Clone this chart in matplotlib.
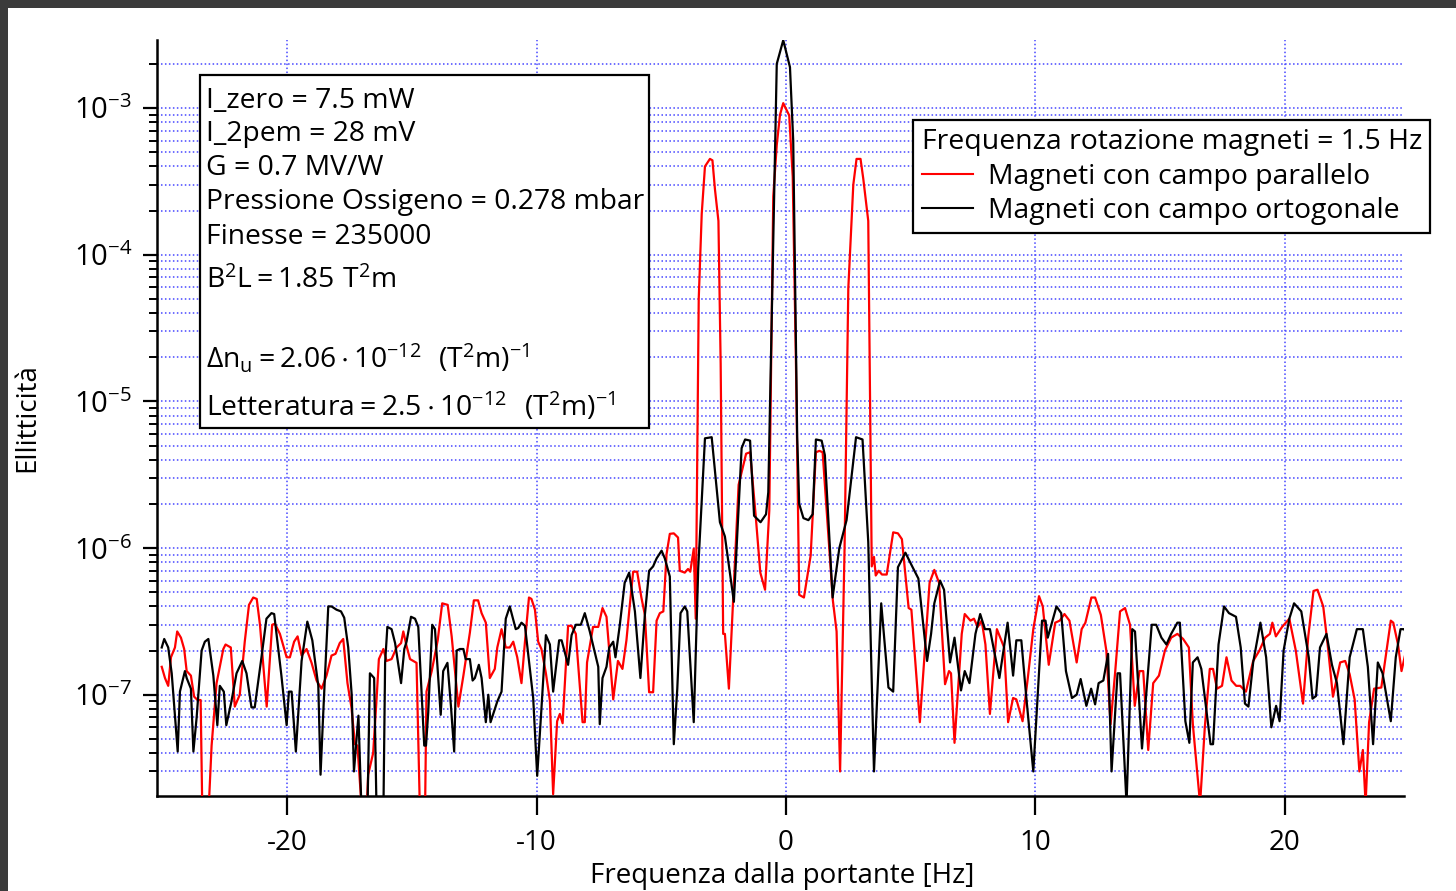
import numpy as np
import matplotlib
matplotlib.use("Agg")
import matplotlib.pyplot as plt
from matplotlib.patches import Rectangle
from matplotlib.ticker import FixedLocator, LogLocator, NullFormatter, FixedFormatter

# ── fonts ───────────────────────────────────────────────────────────────────
FONT = ["Open Sans", "Liberation Sans", "DejaVu Sans"]
plt.rcParams["font.family"] = FONT
plt.rcParams["mathtext.fontset"] = "custom"
plt.rcParams["mathtext.rm"] = "Open Sans"
plt.rcParams["mathtext.it"] = "Open Sans"
plt.rcParams["axes.unicode_minus"] = False

# ── data (Hz, ellitticità) ─────────────────────────────────────────────────
# Magneti con campo parallelo (rosso)
freq_par = [
    -25.04, -24.91, -24.78, -24.67, -24.51, -24.42, -24.27, -24.14, -24.04, -23.87,
    -23.74, -23.60, -23.48, -23.41, -23.17, -23.04, -22.84, -22.71, -22.57, -22.48,
    -22.27, -22.11, -21.91, -21.71, -21.54, -21.37, -21.23, -21.10, -20.83, -20.61,
    -20.50, -20.30, -20.03, -19.90, -19.73, -19.59, -19.43, -19.23, -19.03, -18.83,
    -18.63, -18.43, -18.23, -18.07, -17.90, -17.76, -17.59, -17.43, -17.29, -17.19,
    -17.00, -16.83, -16.76, -16.56, -16.42, -16.33, -16.15, -16.02, -15.82, -15.62,
    -15.44, -15.35, -15.22, -15.08, -14.82, -14.68, -14.48, -14.42, -14.21, -13.97,
    -13.79, -13.57, -13.41, -13.14, -12.94, -12.68, -12.52, -12.35, -12.21, -12.04,
    -11.88, -11.68, -11.58, -11.41, -11.24, -11.08, -10.94, -10.78, -10.61, -10.47,
    -10.31, -10.21, -10.07, -9.94, -9.81, -9.63, -9.47, -9.34, -9.18, -9.07,
    -8.96, -8.74, -8.60, -8.43, -8.16, -8.07, -7.98, -7.74, -7.53, -7.36,
    -7.20, -6.93, -6.74, -6.56, -6.40, -6.27, -6.13, -5.97, -5.80, -5.66,
    -5.49, -5.33, -5.19, -5.06, -4.92, -4.79, -4.66, -4.50, -4.33, -4.26,
    -4.06, -3.93, -3.84, -3.70, -3.62, -3.50, -3.38, -3.25, -3.05, -2.95,
    -2.85, -2.71, -2.62, -2.52, -2.45, -2.29, -1.90, -1.60, -1.44, -1.22,
    -1.03, -0.84, -0.67, -0.51, -0.37, -0.24, -0.11, 0.13, 0.27, 0.40,
    0.53, 0.72, 0.99, 1.20, 1.34, 1.47, 1.88, 2.03, 2.17, 2.35,
    2.50, 2.70, 2.83, 2.99, 3.10, 3.30, 3.44, 3.53, 3.60, 3.72,
    3.85, 4.04, 4.30, 4.49, 4.65, 4.92, 5.03, 5.37, 5.76, 5.95,
    6.14, 6.38, 6.54, 6.62, 6.76, 7.05, 7.17, 7.40, 7.54, 7.69,
    7.85, 8.00, 8.18, 8.46, 8.75, 8.91, 9.11, 9.24, 9.49, 9.70,
    9.92, 10.15, 10.30, 10.54, 10.80, 10.98, 11.17, 11.37, 11.66, 11.86,
    12.01, 12.25, 12.40, 12.63, 12.85, 13.02, 13.20, 13.40, 13.60, 13.80,
    13.99, 14.18, 14.33, 14.53, 14.73, 14.96, 15.20, 15.45, 15.70, 15.93,
    16.16, 16.32, 16.61, 16.80, 17.00, 17.13, 17.29, 17.49, 17.67, 17.87,
    18.06, 18.22, 18.45, 18.74, 18.99, 19.22, 19.41, 19.51, 19.65, 19.90,
    20.19, 20.45, 20.74, 20.95, 21.16, 21.32, 21.55, 21.74, 21.94, 22.23,
    22.43, 22.61, 22.81, 23.00, 23.14, 23.25, 23.39, 23.59, 23.88, 24.26,
    24.36, 24.55, 24.69, 24.83,
]
ell_par = [
    1.55e-7, 1.3e-7, 1.15e-7, 1.8e-7, 2.1e-7, 2.7e-7, 2.45e-7, 2.05e-7, 1.45e-7, 1.35e-7,
    9.7e-8, 9.2e-8, 9.2e-8, 1.5e-8, 1.5e-8, 4.5e-8, 1.2e-7, 1.55e-7, 2.05e-7, 2.2e-7,
    2.1e-7, 8.3e-8, 1.0e-7, 2.3e-7, 4.1e-7, 4.6e-7, 4.5e-7, 3.0e-7, 8.3e-8, 3.0e-7,
    3.05e-7, 2.6e-7, 1.8e-7, 1.8e-7, 2.3e-7, 2.5e-7, 1.85e-7, 2.05e-7, 1.65e-7, 1.25e-7,
    1.1e-7, 1.35e-7, 1.85e-7, 1.9e-7, 2.25e-7, 2.4e-7, 1.2e-7, 8.2e-8, 4.6e-8, 4.5e-8,
    1.5e-8, 1.5e-8, 2.85e-8, 4.0e-8, 9.5e-8, 1.75e-7, 2.05e-7, 1.7e-7, 1.75e-7, 2.1e-7,
    2.25e-7, 2.7e-7, 2.15e-7, 1.75e-7, 1.65e-7, 1.5e-8, 1.5e-8, 1.05e-7, 1.45e-7, 2.35e-7,
    4.2e-7, 4.1e-7, 2.5e-7, 8.3e-8, 1.35e-7, 2.65e-7, 4.4e-7, 4.4e-7, 3.6e-7, 3.1e-7,
    1.3e-7, 1.5e-7, 2.1e-7, 2.8e-7, 2.1e-7, 2.1e-7, 2.3e-7, 1.8e-7, 1.2e-7, 2.3e-7,
    4.6e-7, 4.5e-7, 3.8e-7, 2.3e-7, 2.05e-7, 1.4e-7, 9.1e-8, 2.1e-8, 6.6e-8, 7.4e-8,
    6.4e-8, 2.95e-7, 2.95e-7, 2.6e-7, 6.5e-8, 6.5e-8, 1.66e-7, 2.9e-7, 2.9e-7, 3.9e-7,
    3.4e-7, 9.3e-8, 1.7e-7, 1.5e-7, 2.35e-7, 4.0e-7, 6.9e-7, 6.9e-7, 4.6e-7, 3.5e-7,
    1.04e-7, 1.04e-7, 3.2e-7, 3.6e-7, 3.7e-7, 9.1e-7, 1.25e-6, 1.26e-6, 1.18e-6, 7.0e-7,
    6.8e-7, 7.2e-7, 6.9e-7, 9.9e-7, 3.3e-7, 5.0e-5, 1.9e-4, 4.0e-4, 4.5e-4, 4.4e-4,
    2.8e-4, 1.7e-4, 1.8e-5, 2.6e-7, 2.6e-7, 1.1e-7, 2.7e-6, 4.4e-6, 4.5e-6, 1.7e-6,
    6.8e-7, 5.2e-7, 1.8e-6, 2.5e-4, 5.6e-4, 9.0e-4, 1.08e-3, 8.9e-4, 3.4e-4, 1.8e-5,
    4.8e-7, 4.6e-7, 8.9e-7, 4.5e-6, 4.6e-6, 4.5e-6, 4.4e-7, 2.7e-7, 3.0e-8, 1.0e-6,
    5.9e-5, 3.0e-4, 4.5e-4, 4.5e-4, 3.3e-4, 1.7e-4, 7.5e-7, 8.7e-7, 6.5e-7, 7.0e-7,
    6.6e-7, 6.6e-7, 1.28e-6, 1.26e-6, 1.15e-6, 3.9e-7, 3.8e-7, 6.5e-8, 5.8e-7, 7.1e-7,
    5.8e-7, 1.18e-7, 1.45e-7, 1.4e-7, 4.7e-8, 2.6e-7, 3.55e-7, 3.2e-7, 3.3e-7, 2.9e-7,
    3.2e-7, 2.2e-7, 7.4e-8, 2.8e-7, 2.1e-7, 6.5e-8, 9.5e-8, 9.3e-8, 6.6e-8, 1.3e-7,
    2.8e-7, 4.7e-7, 4.0e-7, 1.6e-7, 3.1e-7, 3.2e-7, 3.55e-7, 3.2e-7, 1.66e-7, 2.8e-7,
    3.1e-7, 4.6e-7, 4.6e-7, 3.5e-7, 2.0e-7, 6.3e-8, 1.4e-7, 3.7e-7, 3.9e-7, 3.0e-7,
    8.4e-8, 1.45e-7, 1.45e-7, 4.2e-8, 1.2e-7, 1.35e-7, 2.0e-7, 2.45e-7, 2.6e-7, 2.4e-7,
    2.1e-7, 6.3e-8, 1.8e-8, 6.0e-8, 1.5e-7, 1.5e-7, 1.1e-7, 1.15e-7, 1.8e-7, 1.25e-7,
    1.15e-7, 1.15e-7, 1.05e-7, 1.7e-7, 2.0e-7, 2.45e-7, 2.6e-7, 3.1e-7, 2.5e-7, 2.9e-7,
    3.3e-7, 2.0e-7, 8.7e-8, 2.5e-7, 5.1e-7, 5.2e-7, 4.0e-7, 2.1e-7, 9.7e-8, 1.66e-7,
    1.7e-7, 1.38e-7, 9.3e-8, 3.0e-8, 4.2e-8, 1.8e-8, 6.5e-8, 1.1e-7, 1.12e-7, 3.2e-7,
    3.1e-7, 2.2e-7, 1.45e-7, 1.85e-7,
]

# Magneti con campo ortogonale (nero)
freq_ort = [
    -25.04, -24.94, -24.78, -24.64, -24.40, -24.31, -24.11, -24.04, -23.87, -23.77,
    -23.64, -23.44, -23.31, -23.17, -22.97, -22.81, -22.71, -22.55, -22.45, -22.25,
    -22.04, -21.81, -21.64, -21.44, -21.31, -21.04, -20.84, -20.64, -20.53, -20.24,
    -20.03, -19.94, -19.83, -19.66, -19.43, -19.20, -19.00, -18.76, -18.67, -18.56,
    -18.36, -18.23, -18.03, -17.85, -17.72, -17.56, -17.42, -17.33, -17.15, -17.02,
    -16.79, -16.69, -16.52, -16.42, -16.15, -16.08, -15.99, -15.82, -15.68, -15.44,
    -15.31, -15.22, -15.04, -14.88, -14.75, -14.51, -14.44, -14.35, -14.19, -14.08,
    -13.85, -13.75, -13.58, -13.44, -13.31, -13.21, -13.08, -12.94, -12.85, -12.68,
    -12.57, -12.48, -12.32, -12.21, -12.04, -11.94, -11.85, -11.68, -11.58, -11.41,
    -11.24, -11.08, -10.84, -10.74, -10.61, -10.47, -10.14, -9.98, -9.81, -9.63,
    -9.47, -9.34, -9.10, -9.00, -8.74, -8.60, -8.43, -8.23, -8.07, -7.87,
    -7.67, -7.53, -7.47, -7.36, -7.20, -7.09, -6.93, -6.84, -6.67, -6.47,
    -6.29, -6.06, -5.84, -5.66, -5.49, -5.33, -5.19, -4.99, -4.86, -4.66,
    -4.50, -4.36, -4.23, -4.06, -3.96, -3.70, -3.52, -3.25, -2.98, -2.65,
    -2.45, -2.09, -1.78, -1.64, -1.44, -1.28, -1.02, -0.80, -0.71, -0.44,
    -0.37, -0.11, 0.16, 0.29, 0.45, 0.53, 0.70, 0.90, 1.07, 1.20,
    1.43, 1.56, 1.87, 2.14, 2.43, 2.81, 3.07, 3.30, 3.53, 3.82,
    4.11, 4.30, 4.49, 4.79, 5.08, 5.31, 5.66, 5.82, 5.95, 6.18,
    6.34, 6.58, 6.76, 7.02, 7.17, 7.36, 7.60, 7.79, 7.98, 8.18,
    8.56, 8.89, 9.11, 9.24, 9.44, 9.63, 9.92, 10.27, 10.41, 10.50,
    10.85, 11.04, 11.23, 11.47, 11.66, 11.82, 12.05, 12.24, 12.40, 12.54,
    12.73, 12.92, 13.06, 13.30, 13.40, 13.66, 13.89, 14.00, 14.28, 14.67,
    14.85, 15.06, 15.26, 15.45, 15.70, 15.80, 16.02, 16.18, 16.32, 16.51,
    16.66, 16.89, 17.03, 17.13, 17.35, 17.57, 17.77, 18.05, 18.24, 18.41,
    18.55, 18.74, 19.03, 19.26, 19.47, 19.66, 19.80, 19.96, 20.19, 20.38,
    20.67, 20.97, 21.12, 21.26, 21.42, 21.68, 21.90, 22.10, 22.36, 22.61,
    22.90, 23.14, 23.34, 23.55, 23.74, 23.93, 24.26, 24.46, 24.65, 24.80,
    24.88,
]
ell_ort = [
    2.1e-7, 2.4e-7, 2.1e-7, 1.4e-7, 4.1e-8, 1.05e-7, 1.45e-7, 1.3e-7, 1.1e-7, 4.1e-8,
    7.0e-8, 2.0e-7, 2.3e-7, 2.4e-7, 1.35e-7, 6.2e-8, 1.15e-7, 1.05e-7, 6.2e-8, 8.9e-8,
    1.4e-7, 1.7e-7, 1.4e-7, 8.2e-8, 8.2e-8, 1.8e-7, 3.3e-7, 3.6e-7, 3.55e-7, 1.35e-7,
    6.2e-8, 1.05e-7, 1.05e-7, 4.1e-8, 1.7e-7, 3.15e-7, 2.35e-7, 1.15e-7, 2.85e-8, 7.6e-8,
    4.0e-7, 4.0e-7, 3.8e-7, 3.7e-7, 3.35e-7, 2.1e-7, 1.0e-7, 3.0e-8, 7.2e-8, 1.5e-8,
    1.5e-8, 1.4e-7, 1.3e-7, 1.5e-8, 1.5e-8, 1.65e-7, 2.9e-7, 2.8e-7, 2.25e-7, 1.2e-7,
    2.05e-7, 2.3e-7, 3.4e-7, 3.3e-7, 2.9e-7, 4.5e-8, 4.5e-8, 7.6e-8, 3.0e-7, 2.8e-7,
    7.3e-8, 1.45e-7, 1.65e-7, 8.4e-8, 4.1e-8, 2.0e-7, 2.05e-7, 2.05e-7, 1.75e-7, 1.75e-7,
    1.25e-7, 1.3e-7, 1.6e-7, 1.3e-7, 6.5e-8, 1.0e-7, 6.5e-8, 8.0e-8, 9.0e-8, 1.05e-7,
    3.3e-7, 4.0e-7, 2.8e-7, 2.85e-7, 3.1e-7, 2.95e-7, 9.5e-8, 2.8e-8, 8.0e-8, 2.55e-7,
    2.2e-7, 1.05e-7, 2.35e-7, 2.35e-7, 1.6e-7, 2.55e-7, 3.0e-7, 3.0e-7, 3.6e-7, 2.7e-7,
    1.95e-7, 1.55e-7, 6.3e-8, 1.3e-7, 1.55e-7, 2.1e-7, 2.3e-7, 1.8e-7, 2.95e-7, 5.8e-7,
    6.8e-7, 3.7e-7, 1.3e-7, 3.5e-7, 7.0e-7, 7.5e-7, 8.5e-7, 9.6e-7, 8.5e-7, 6.4e-7,
    4.6e-8, 1.1e-7, 3.6e-7, 4.0e-7, 3.7e-7, 6.5e-8, 7.3e-7, 5.6e-6, 5.7e-6, 1.5e-6,
    1.2e-6, 4.3e-7, 4.8e-6, 5.5e-6, 5.4e-6, 1.66e-6, 1.5e-6, 1.7e-6, 2.4e-6, 5.0e-4,
    2.0e-3, 2.9e-3, 1.9e-3, 6.0e-4, 5.7e-6, 2.0e-6, 1.6e-6, 1.55e-6, 1.7e-6, 5.5e-6,
    5.4e-6, 4.3e-6, 4.6e-7, 1.0e-6, 1.55e-6, 5.7e-6, 5.5e-6, 1.1e-6, 3.0e-8, 4.2e-7,
    1.12e-7, 1.05e-7, 7.4e-7, 9.3e-7, 7.4e-7, 6.2e-7, 1.7e-7, 2.6e-7, 4.2e-7, 6.0e-7,
    5.2e-7, 1.66e-7, 2.45e-7, 1.07e-7, 1.45e-7, 1.2e-7, 2.6e-7, 3.55e-7, 2.8e-7, 2.8e-7,
    1.3e-7, 3.1e-7, 1.35e-7, 2.35e-7, 2.35e-7, 1.0e-7, 3.0e-8, 3.2e-7, 3.2e-7, 2.45e-7,
    4.0e-7, 3.6e-7, 1.45e-7, 9.5e-8, 1.0e-7, 1.28e-7, 8.4e-8, 1.1e-7, 8.6e-8, 1.2e-7,
    1.25e-7, 1.9e-7, 3.0e-8, 1.4e-7, 1.4e-7, 1.8e-8, 2.8e-7, 2.7e-7, 4.3e-8, 3.0e-7,
    3.0e-7, 2.45e-7, 2.2e-7, 2.6e-7, 3.1e-7, 3.1e-7, 6.6e-8, 4.7e-8, 1.66e-7, 1.8e-7,
    1.5e-7, 7.2e-8, 4.6e-8, 4.6e-8, 2.2e-7, 4.0e-7, 3.6e-7, 3.4e-7, 2.1e-7, 8.7e-8,
    8.3e-8, 1.66e-7, 3.1e-7, 1.8e-7, 6.0e-8, 8.4e-8, 6.6e-8, 2.0e-7, 3.3e-7, 4.2e-7,
    3.7e-7, 1.8e-7, 9.4e-8, 9.8e-8, 2.1e-7, 2.6e-7, 1.6e-7, 1.2e-7, 4.6e-8, 1.8e-7,
    2.8e-7, 2.8e-7, 1.55e-7, 4.6e-8, 1.66e-7, 1.4e-7, 6.6e-8, 1.8e-7, 2.8e-7, 2.8e-7,
    2.6e-7,
]

x_ticks = [-20, -10, 0, 10, 20]
y_major = [1e-7, 1e-6, 1e-5, 1e-4, 1e-3]
y_labels = [r"$\mathregular{10^{-7}}$", r"$\mathregular{10^{-6}}$", r"$\mathregular{10^{-5}}$",
            r"$\mathregular{10^{-4}}$", r"$\mathregular{10^{-3}}$"]

info_lines = [
    "I_zero = 7.5 mW",
    "I_2pem = 28 mV",
    "G = 0.7 MV/W",
    "Pressione Ossigeno = 0.278 mbar",
    "Finesse = 235000",
    r"$\mathregular{B^2L = 1.85\ T^2m}$",
    r"$\mathregular{\Delta n_u = 2.06 \cdot 10^{-12}\ \ (T^2m)^{-1}}$",
    r"$\mathregular{Letteratura = 2.5 \cdot 10^{-12}\ \ (T^2m)^{-1}}$",
]
info_baselines = [108, 141, 175, 209, 244, 288, 367, 416]   # pixel rows

legend_title = "Frequenza rotazione magneti = 1.5 Hz"
label_par = "Magneti con campo parallelo"
label_ort = "Magneti con campo ortogonale"

# ── figure ──────────────────────────────────────────────────────────────────
W, H = 1456, 891
fig = plt.figure(figsize=(W / 100, H / 100), dpi=100)
fig.patch.set_facecolor("white")

# dark frame from the screenshot
fig.patches.append(Rectangle((0, 1 - 7.5 / H), 1, 7.5 / H, transform=fig.transFigure,
                             facecolor="#3b3b3b", edgecolor="none", zorder=0))
fig.patches.append(Rectangle((0, 0), 7.5 / W, 1, transform=fig.transFigure,
                             facecolor="#3b3b3b", edgecolor="none", zorder=0))

ax = fig.add_axes([157 / W, 1 - 796 / H, (1404 - 157) / W, (796 - 40) / H])
ax.set_yscale("log")
ax.set_xlim(-25.23, 24.79)
ax.set_ylim(2.04e-8, 2.91e-3)

grid_kw = dict(color="#4646ff", lw=1.1, ls=(0, (1, 1.6)))
ax.plot(freq_par, ell_par, color="#ff0000", lw=1.6, label=label_par, zorder=3)
ax.plot(freq_ort, ell_ort, color="black", lw=1.6, label=label_ort, zorder=4)

# ticks & grid
ax.xaxis.set_major_locator(FixedLocator(x_ticks))
ax.yaxis.set_major_locator(FixedLocator(y_major))
ax.yaxis.set_major_formatter(FixedFormatter(y_labels))
ax.yaxis.set_minor_locator(LogLocator(base=10, subs=np.arange(2, 10)))
ax.yaxis.set_minor_formatter(NullFormatter())
ax.grid(True, which="both", axis="y", **grid_kw)
ax.grid(True, which="major", axis="x", **grid_kw)
ax.set_axisbelow(True)

for s in ["top", "right"]:
    ax.spines[s].set_visible(False)
for s in ["left", "bottom"]:
    ax.spines[s].set_linewidth(1.8)

ax.tick_params(axis="x", which="major", direction="out", length=14, width=1.6,
               labelsize=20, pad=10)
ax.tick_params(axis="y", which="major", direction="out", length=10, width=1.6,
               labelsize=21, pad=8)
ax.tick_params(axis="y", which="minor", direction="out", length=6, width=1.4)

fig.text(782 / W, 1 - 876 / H, "Frequenza dalla portante [Hz]", fontsize=20,
         ha="center", va="center")
fig.text(27 / W, 1 - 418 / H, "Ellitticità", fontsize=20, rotation=90,
         ha="center", va="center")

# info box
fig.patches.append(Rectangle((200 / W, 1 - 428 / H), 449 / W, 353 / H,
                             transform=fig.transFigure, facecolor="white",
                             edgecolor="black", lw=1.6, zorder=5))
for line, yb in zip(info_lines, info_baselines):
    fig.text(206 / W, 1 - yb / H, line, fontsize=20.3, ha="left", va="baseline",
             zorder=6)

# legend
leg = ax.legend(title=legend_title, loc="upper left",
                bbox_to_anchor=(913 / W, 1 - 120 / H), bbox_transform=fig.transFigure,
                fontsize=20.4, title_fontsize=20.4, frameon=True, fancybox=False,
                edgecolor="black", framealpha=1, borderpad=0.3, borderaxespad=0,
                handlelength=1.8, handletextpad=0.55, labelspacing=0.22,
                alignment="left")
leg.get_frame().set_linewidth(1.6)
leg.set_zorder(10)
for h in leg.legend_handles:
    h.set_linewidth(1.5)

fig.savefig("out.png", dpi=100)
